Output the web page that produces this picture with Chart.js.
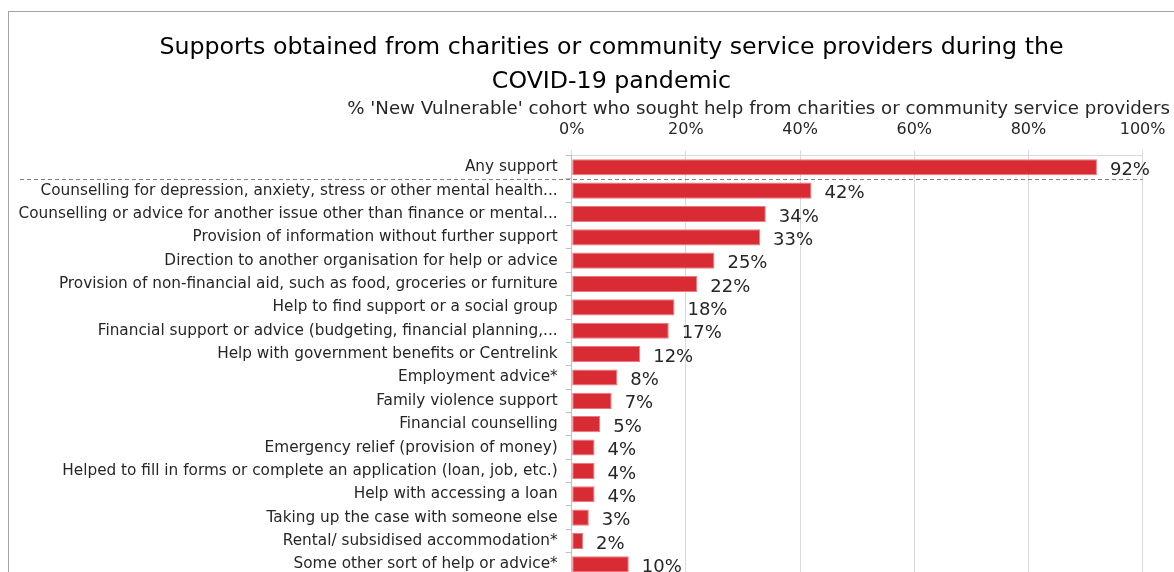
<!DOCTYPE html>
<html>
<head>
<meta charset="utf-8">
<script src="https://cdn.jsdelivr.net/npm/chart.js@4.4.1/dist/chart.umd.min.js"></script>
<style>
	html, body { margin: 0; padding: 0; background: #fff; overflow: hidden; }
	#frame {
		position: absolute; left: 8px; top: 11px;
		width: 1300px; height: 700px;
		border: 1px solid #a3a3a3;
	}
	#wrap { position: absolute; left: 0; top: 0; width: 1200px; height: 600px; }
</style>
</head>
<body>
<div id="frame"></div>
<div id="wrap"><canvas id="support_chart"></canvas></div>
<script>
// Share of the 'New Vulnerable' cohort by type of help obtained.
const supportTypes = [
	'Any support',
	'Counselling for depression, anxiety, stress or other mental health...',
	'Counselling or advice for another issue other than finance or mental...',
	'Provision of information without further support',
	'Direction to another organisation for help or advice',
	'Provision of non-financial aid, such as food, groceries or furniture',
	'Help to find support or a social group',
	'Financial support or advice (budgeting, financial planning,...',
	'Help with government benefits or Centrelink',
	'Employment advice*',
	'Family violence support',
	'Financial counselling',
	'Emergency relief (provision of money)',
	'Helped to fill in forms or complete an application (loan, job, etc.)',
	'Help with accessing a loan',
	'Taking up the case with someone else',
	'Rental/ subsidised accommodation*',
	'Some other sort of help or advice*'
];
const supportPercent = [92, 42, 34, 33, 25, 22, 18, 17, 12, 8, 7, 5, 4, 4, 4, 3, 2, 10];
const axisTicks = [0, 20, 40, 60, 80, 100];

const BAR_COLOR = 'rgb(217, 43, 52)';
const BAR_EDGE = 'rgb(235, 120, 126)';
const FONT = "'DejaVu Sans', sans-serif";
const TEXT_COLOR = '#262626';

// Value labels just past the end of each bar.
const valueLabels = {
	id: 'valueLabels',
	afterDatasetsDraw(chart) {
		const ctx = chart.ctx;
		const meta = chart.getDatasetMeta(0);
		ctx.save();
		ctx.font = `18px ${FONT}`;
		ctx.fillStyle = TEXT_COLOR;
		ctx.textAlign = 'left';
		ctx.textBaseline = 'middle';
		meta.data.forEach((bar, i) => {
			ctx.fillText(`${supportPercent[i]}%`, bar.x + 13, bar.y + 3);
		});
		ctx.restore();
	}
};

// Dashed separator between "Any support" and the individual supports.
const separator = {
	id: 'separator',
	afterDraw(chart) {
		const y = chart.scales.y;
		const pos = (y.getPixelForValue(0) + y.getPixelForValue(1)) / 2;
		const ctx = chart.ctx;
		ctx.save();
		ctx.strokeStyle = '#7f7f7f';
		ctx.lineWidth = 1;
		ctx.setLineDash([4, 3]);
		ctx.beginPath();
		ctx.moveTo(20, Math.round(pos) + 0.5);
		ctx.lineTo(chart.chartArea.right, Math.round(pos) + 0.5);
		ctx.stroke();
		ctx.restore();
	}
};

// The long category names run left past the axis box; widen its clip area.
const labelRoom = {
	id: 'labelRoom',
	afterLayout(chart) {
		chart.scales.y.left = 0;
	}
};

const ctx = document.getElementById('support_chart').getContext('2d');
new Chart(ctx, {
	type: 'bar',
	data: {
		labels: supportTypes,
		datasets: [{
			data: supportPercent,
			backgroundColor: BAR_COLOR,
			borderColor: BAR_EDGE,
			borderWidth: 1,
			borderSkipped: false,
			barPercentage: 0.69,
			categoryPercentage: 1.0
		}]
	},
	options: {
		indexAxis: 'y',
		responsive: true,
		maintainAspectRatio: false,
		animation: false,
		layout: {
			padding: { top: 0, left: 53, right: 30, bottom: 24 }
		},
		scales: {
			x: {
				position: 'top',
				min: 0,
				max: 100,
				afterBuildTicks: scale => {
					scale.ticks = axisTicks.map(v => ({ value: v }));
				},
				afterFit: scale => {
					scale.paddingRight = 57.4;
					scale.height = 36.6;
				},
				ticks: {
					callback: v => `${v}%`,
					color: TEXT_COLOR,
					font: { family: FONT, size: 16, lineHeight: 1.2 },
					padding: 11.4,
					maxRotation: 0
				},
				grid: {
					color: '#d9d9d9',
					tickLength: 5
				},
				border: { color: '#d9d9d9' }
			},
			y: {
				afterFit: scale => {
					scale.width = 518.7;
				},
				ticks: {
					color: TEXT_COLOR,
					font: { family: FONT, size: 15.3 },
					padding: 8,
					autoSkip: false
				},
				grid: {
					drawOnChartArea: false,
					offset: true,
					color: '#bfbfbf',
					tickLength: 6
				},
				border: { color: '#bfbfbf' }
			}
		},
		plugins: {
			legend: { display: false },
			tooltip: { enabled: false },
			title: {
				display: true,
				text: ['Supports obtained from charities or community service providers during the', 'COVID-19 pandemic'],
				color: '#000',
				font: { family: FONT, size: 23.7, weight: 'normal', lineHeight: 1.47 },
				padding: { top: 30, bottom: 0 }
			},
			subtitle: {
				display: true,
				align: 'end',
				text: "% 'New Vulnerable' cohort who sought help from charities or community service providers",
				color: TEXT_COLOR,
				font: { family: FONT, size: 18.2, lineHeight: 1.06 },
				padding: { top: 0, bottom: 0 }
			}
		}
	},
	plugins: [valueLabels, separator, labelRoom]
});
</script>
</body>
</html>
